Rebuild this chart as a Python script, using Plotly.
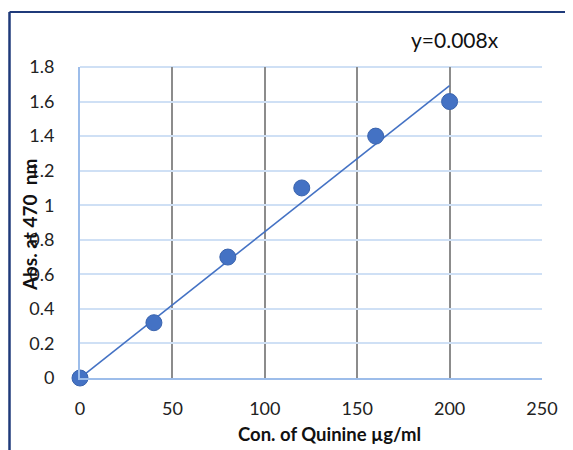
import plotly.graph_objects as go
import numpy as np

conc = [0, 40, 80, 120, 160, 200]
absorb = [0.0, 0.32, 0.70, 1.10, 1.40, 1.60]
x_ticks = [0, 50, 100, 150, 200, 250]
y_ticks = [0, 0.2, 0.4, 0.6, 0.8, 1.0, 1.2, 1.4, 1.6, 1.8]
y_tick_text = ["0", "0.2", "0.4", "0.6", "0.8", "1", "1.2", "1.4", "1.6", "1.8"]

# least-squares trendline through origin
xa = np.array(conc, dtype=float)
ya = np.array(absorb, dtype=float)
slope = float((xa * ya).sum() / (xa * xa).sum())
trend_x = [0, 200]
trend_y = [slope * v for v in trend_x]

FONT = "Lato, Carlito, Calibri, sans-serif"
BLUE = "#4472C4"
NAVY = "#1F3A7A"

fig = go.Figure()
fig.add_trace(go.Scatter(x=trend_x, y=trend_y, mode="lines",
                         line=dict(color=BLUE, width=1.6), hoverinfo="skip",
                         showlegend=False, cliponaxis=False))
fig.add_trace(go.Scatter(x=conc, y=absorb, mode="markers",
                         marker=dict(color=BLUE, size=16,
                                     line=dict(color="#3A64AE", width=1)),
                         showlegend=False, cliponaxis=False))

fig.update_layout(
    width=573, height=450,
    paper_bgcolor="white", plot_bgcolor="white",
    margin=dict(l=72, r=39, t=59, b=80),
    font=dict(family=FONT, size=18, color="#222"),
    xaxis=dict(range=[0, 250], tickvals=x_ticks, showgrid=True,
               gridcolor="#8C8C8C", gridwidth=2, zeroline=False,
               showline=True, linecolor="#9DBDEA", linewidth=2,
               ticks="", ticklabelstandoff=13, fixedrange=True),
    yaxis=dict(range=[0, 1.8], tickvals=y_ticks, ticktext=y_tick_text,
               showgrid=True, gridcolor="#CFE0F5", gridwidth=2,
               zeroline=False, showline=True, linecolor="#9DBDEA",
               linewidth=2, ticks="", ticklabelstandoff=20, fixedrange=True),
    shapes=[
        dict(type="line", xref="paper", yref="paper", x0=-0.1526, x1=1.1,
             y0=1.1768, y1=1.1768, line=dict(color=NAVY, width=2)),
        dict(type="line", xref="paper", yref="paper", x0=-0.1526, x1=-0.1526,
             y0=1.1768, y1=-0.3, line=dict(color=NAVY, width=2.5)),
        dict(type="line", xref="paper", yref="paper", x0=0, x1=1,
             y0=1, y1=1, line=dict(color="#CFE0F5", width=2), layer="below"),
    ],
    annotations=[
        dict(text="y=0.008x", xref="paper", yref="paper", x=0.812, y=1.087,
             showarrow=False, font=dict(size=21, family=FONT, color="#111"),
             xanchor="center", yanchor="middle"),
        dict(text="<b>Con. of Quinine µg/ml</b>", xref="paper", yref="paper",
             x=0.541, y=-0.18, showarrow=False,
             font=dict(size=18.5, family=FONT, color="#111"),
             xanchor="center", yanchor="middle"),
        dict(text="<b>Abs. at 470  nm</b>", xref="paper", yref="paper",
             x=-0.108, y=0.492, showarrow=False, textangle=-90,
             font=dict(size=19, family=FONT, color="#111"),
             xanchor="center", yanchor="middle"),
    ],
)

fig.write_html("out.html")
